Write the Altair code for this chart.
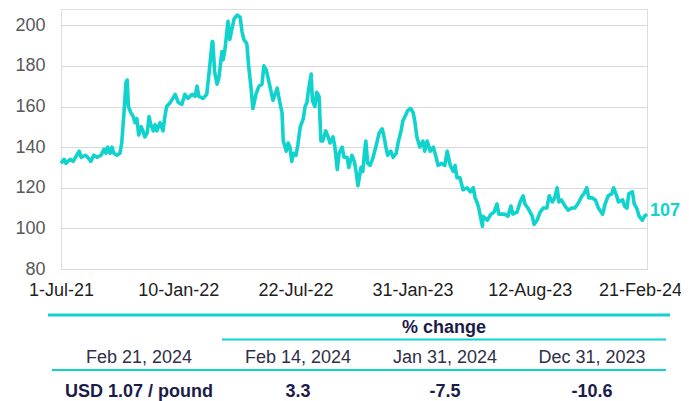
import altair as alt
import pandas as pd

# ---- data ----
days = [0, 5, 8, 15, 20, 26, 30, 33, 40, 44, 49, 54, 59, 66, 71, 74, 77, 81, 84, 87,
        92, 97, 100, 104, 107, 109, 111, 115, 119, 122, 125, 128, 132, 135, 138, 142,
        145, 148, 152, 155, 158, 163, 168, 171, 174, 180, 188, 193, 199, 204, 209, 216,
        221, 224, 227, 234, 240, 244, 249, 250, 253, 257, 260, 265, 267, 270, 275, 278,
        282, 285, 290, 295, 298, 301, 306, 309, 313, 316, 321, 326, 331, 334, 338, 344,
        349, 356, 361, 364, 366, 371, 374, 377, 380, 383, 387, 390, 394, 399, 402, 405,
        408, 412, 414, 418, 421, 425, 428, 431, 436, 440, 443, 448, 451, 455, 458, 463,
        466, 471, 474, 479, 483, 486, 489, 494, 497, 500, 502, 505, 509, 514, 520, 524,
        529, 532, 535, 538, 543, 547, 552, 555, 560, 563, 568, 571, 576, 580, 583, 586,
        591, 596, 599, 603, 608, 613, 616, 621, 627, 632, 636, 641, 646, 649, 652, 657,
        662, 669, 674, 679, 682, 685, 688, 694, 695, 702, 708, 713, 718, 721, 726, 731,
        736, 741, 744, 751, 756, 761, 764, 769, 776, 779, 784, 789, 794, 800, 804, 809,
        813, 817, 820, 824, 830, 835, 841, 846, 851, 858, 861, 866, 869, 875, 880, 885,
        892, 896, 901, 907, 910, 915, 918, 925, 928, 932, 935, 941, 944, 948, 952, 957,
        961, 965]
values = [132, 134, 132, 134, 133, 136, 138, 135, 136, 135, 133, 136, 135, 136, 139, 137, 140, 137, 140, 137,
          136, 137, 142, 158, 172, 173, 160, 157, 155, 152, 154, 146, 150, 148, 145, 147,
          155, 151, 148, 151, 148, 152, 148, 155, 160, 162, 166, 162, 161, 166, 164, 166,
          165, 170, 165, 164, 166, 177, 192, 192, 177, 171, 174, 187, 183, 188, 202, 193,
          199, 203, 205, 204, 197, 193, 191, 180, 169, 159, 166, 170, 171, 180, 178, 170,
          163, 169, 161, 157, 143, 138, 142, 140, 133, 137, 136, 141, 150, 154, 160, 162,
          169, 176, 163, 160, 167, 165, 143, 143, 148, 145, 142, 145, 140, 129, 137, 140,
          135, 135, 130, 136, 133, 128, 121, 130, 128, 138, 143, 132, 131, 135, 142, 147,
          149, 145, 140, 136, 138, 135, 137, 142, 148, 153, 156, 158, 159, 157, 152, 145,
          140, 143, 138, 143, 138, 140, 137, 131, 132, 131, 138, 131, 128, 131, 125, 125,
          119, 120, 118, 120, 115, 113, 110, 101, 106, 104, 107, 108, 112, 107, 107, 107,
          106, 111, 107, 108, 113, 116, 112, 110, 106, 102, 104, 108, 110, 110, 116, 113,
          115, 120, 113, 114, 111, 109, 110, 110, 112, 116, 117, 120, 115, 115, 114, 110,
          107, 112, 116, 117, 120, 116, 113, 114, 111, 110, 117, 118, 112, 110, 106, 104,
          106, 107]
start_date = "2021-07-01"
tick_dates = ["2021-07-01", "2022-01-10", "2022-07-22", "2023-01-31", "2023-08-12", "2024-02-21"]
y_ticks = [80, 100, 120, 140, 160, 180, 200]
end_label = "107"

group_title = "% change"
headers = ["Feb 21, 2024", "Feb 14, 2024", "Jan 31, 2024", "Dec 31, 2023"]
row_cells = ["USD 1.07 / pound", "3.3", "-7.5", "-10.6"]

# ---- styling / layout ----
TEAL = "#10d3cd"
NAVY = "#1c1c4a"
HEAD = "#2f2f48"
FONT = "Liberation Sans"
W, H = 586, 260
col_x = [78, 237, 384, 531]
y_group, y_head, y_row = 319, 349, 383

df = pd.DataFrame({
    "date": pd.Timestamp(start_date) + pd.to_timedelta(days, unit="D"),
    "value": values,
})
df["label"] = ""
df.loc[df.index[-1], "label"] = end_label

tick_vals = [alt.DateTime(year=t.year, month=t.month, date=t.day)
             for t in pd.to_datetime(tick_dates)]
x_dom = [tick_vals[0], tick_vals[-1]]

x_enc = alt.X("date:T",
              scale=alt.Scale(domain=x_dom, nice=False),
              axis=alt.Axis(values=tick_vals, format="%-d-%b-%y", title=None,
                            grid=False, ticks=False, tickSize=0, domain=False,
                            labelFlush=False, labelOverlap=False, labelPadding=12,
                            labelBound=False,
                            labelOffset={"condition": {"test": "datum.index == 1", "value": -7},
                                         "value": 0},
                            labelFontSize=18, labelColor="#1e1e1e", labelFont=FONT))
y_enc = alt.Y("value:Q",
              scale=alt.Scale(domain=[80, 208], nice=False, zero=False),
              axis=alt.Axis(values=y_ticks, title=None, grid=True, gridColor="#d9d9d9",
                            gridWidth=1.2, ticks=False, tickSize=0, domain=False,
                            labelPadding=16, labelFontSize=18, labelColor="#595959",
                            labelFont=FONT))

line = alt.Chart(df).mark_line(color=TEAL, strokeWidth=3.6, strokeJoin="round").encode(
    x=x_enc, y=y_enc)

endtxt = alt.Chart(df.tail(1)).mark_text(
    align="left", baseline="middle", dx=3, dy=-3, fontSize=18, fontWeight="bold",
    color=TEAL, font=FONT).encode(x="date:T", y="value:Q", text="label:N")

layers = [line, endtxt]


def rule(x1, x2, y, w):
    return alt.Chart(pd.DataFrame({"k": [0]})).mark_rule(
        color=TEAL, strokeWidth=w).encode(
        x=alt.value(x1), x2=alt.value(x2), y=alt.value(y))


def cell(text, x, y, color, bold, size=18):
    return alt.Chart(pd.DataFrame({"t": [text]})).mark_text(
        align="center", baseline="middle", fontSize=size, font=FONT,
        fontWeight="bold" if bold else "normal", color=color).encode(
        text="t:N", x=alt.value(x), y=alt.value(y))


layers += [rule(-13, 609, 306, 3), rule(161, 605, 330.5, 2.2), rule(-9, 605, 361, 2.2)]
layers.append(cell(group_title, 383, y_group, NAVY, True))
for h, cx in zip(headers, col_x):
    layers.append(cell(h, cx, y_head, HEAD, False))
for r, cx in zip(row_cells, col_x):
    layers.append(cell(r, cx, y_row, NAVY, True))

chart = alt.layer(*layers).properties(
    width=W, height=H,
    padding={"left": 53, "top": 1, "right": 34, "bottom": 132},
    autosize=alt.AutoSizeParams(type="none"),
).configure_view(strokeWidth=0).configure(background="white")

chart.save("out.html", embed_options={"renderer": "svg", "actions": False})
